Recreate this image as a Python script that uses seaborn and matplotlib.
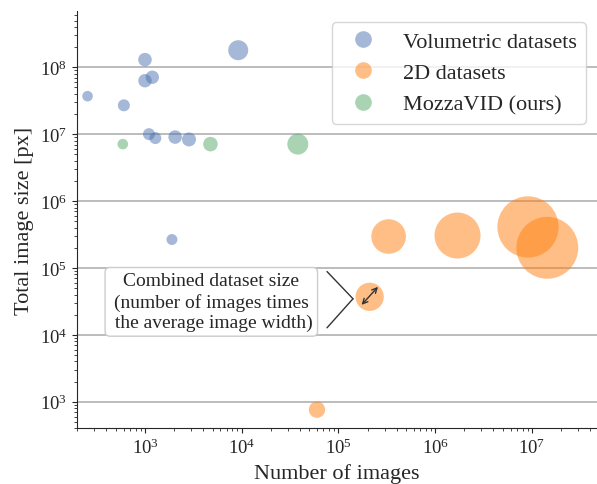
import pandas as pd
import matplotlib.pyplot as plt
from matplotlib.lines import Line2D
from matplotlib.transforms import offset_copy
import seaborn as sns

# values
vol_images = [255, 605, 1000, 1000, 1190, 9200, 1100, 1280, 2050, 2850, 1900]
vol_pixels = [3.7e7, 2.7e7, 1.3e8, 6.3e7, 7.1e7, 1.8e8, 1.0e7, 8.75e6, 9.06e6, 8.35e6, 2.66e5]
vol_bubble = [28, 36, 46, 45, 45, 100, 36, 36, 46, 49, 30]

twod_images = [6.0e4, 2.1e5, 3.3e5, 1.7e6, 9.1e6, 1.44e7]
twod_pixels = [760, 3.7e4, 2.95e5, 3.05e5, 4.1e5, 2.0e5]
twod_bubble = [67, 200, 300, 530, 940, 960]

mozza_images = [590, 4750, 38000]
mozza_pixels = [7.1e6, 7.1e6, 7.1e6]
mozza_bubble = [28, 53, 110]

groups = ["Volumetric datasets", "2D datasets", "MozzaVID (ours)"]
colors = ["#4C72B0", "#FF7F0E", "#55A868"]

df = pd.concat([
    pd.DataFrame({"images": vol_images, "pixels": vol_pixels, "bubble": vol_bubble, "kind": groups[0]}),
    pd.DataFrame({"images": twod_images, "pixels": twod_pixels, "bubble": twod_bubble, "kind": groups[1]}),
    pd.DataFrame({"images": mozza_images, "pixels": mozza_pixels, "bubble": mozza_bubble, "kind": groups[2]}),
])

sns.set_style("ticks")
plt.rcParams["font.family"] = ["Liberation Serif", "DejaVu Serif"]
plt.rcParams["mathtext.fontset"] = "custom"
plt.rcParams["mathtext.rm"] = "Liberation Serif"
plt.rcParams["mathtext.it"] = "Liberation Serif:italic"
plt.rcParams["mathtext.bf"] = "Liberation Serif:bold"

fig = plt.figure(figsize=(5.97, 4.85), dpi=100)
ax = fig.add_axes([0.1285, 0.1148, 0.8715, 0.8605])

bmax = df["bubble"].max()
sns.scatterplot(data=df, x="images", y="pixels", hue="kind", palette=colors,
                size="bubble", sizes=(0, 2.07 * bmax), size_norm=(0, bmax),
                alpha=0.5, linewidth=0, legend=False, ax=ax, zorder=3)

ax.set_xscale("log")
ax.set_yscale("log")
ax.set_xlim(197, 4.7e7)
ax.set_ylim(400, 6.95e8)
ax.grid(axis="y", which="major", color="#b0b0b0", linewidth=1.2)
ax.set_axisbelow(True)
sns.despine(ax=ax)
ax.tick_params(labelsize=13.5)
ax.set_xlabel("Number of images", fontsize=16)
ax.set_ylabel("Total image size [px]", fontsize=16)

# annotation around the 2D dataset bubble
bx, by = twod_images[1], twod_pixels[1]
ax.annotate("Combined dataset size\n(number of images times\n the average image width)",
            xy=(bx, by), xytext=(-114, -3.6), textcoords="offset points",
            ha="center", va="center", fontsize=14, linespacing=1.25,
            bbox=dict(boxstyle="round,pad=0.25", fc="white", ec="#cccccc"))


def pt(dx, dy):
    return offset_copy(ax.transData, fig=fig, x=dx, y=dy, units="points")


# the ">" pointer from the box to the bubble
for dy in (18.2, -22.3):
    ax.annotate("", xy=(bx, by), xycoords=pt(-12, -1.4),
                xytext=(bx, by), textcoords=pt(-30.7, dy),
                arrowprops=dict(arrowstyle="-", color="#333333", lw=1,
                                shrinkA=0, shrinkB=0))
# double arrow inside the bubble
ax.annotate("", xy=(bx, by), xycoords=pt(6, 7.2),
            xytext=(bx, by), textcoords=pt(-5.8, -5.8),
            arrowprops=dict(arrowstyle="<->", color="#333333", lw=1,
                            shrinkA=0, shrinkB=0, mutation_scale=9))

handles = [Line2D([], [], marker="o", linestyle="", markersize=12,
                  markerfacecolor=c, markeredgewidth=0, alpha=0.5) for c in colors]
ax.legend(handles, groups, loc="upper right", fontsize=16, labelspacing=0.5)

fig.savefig("out.png", dpi=100)
